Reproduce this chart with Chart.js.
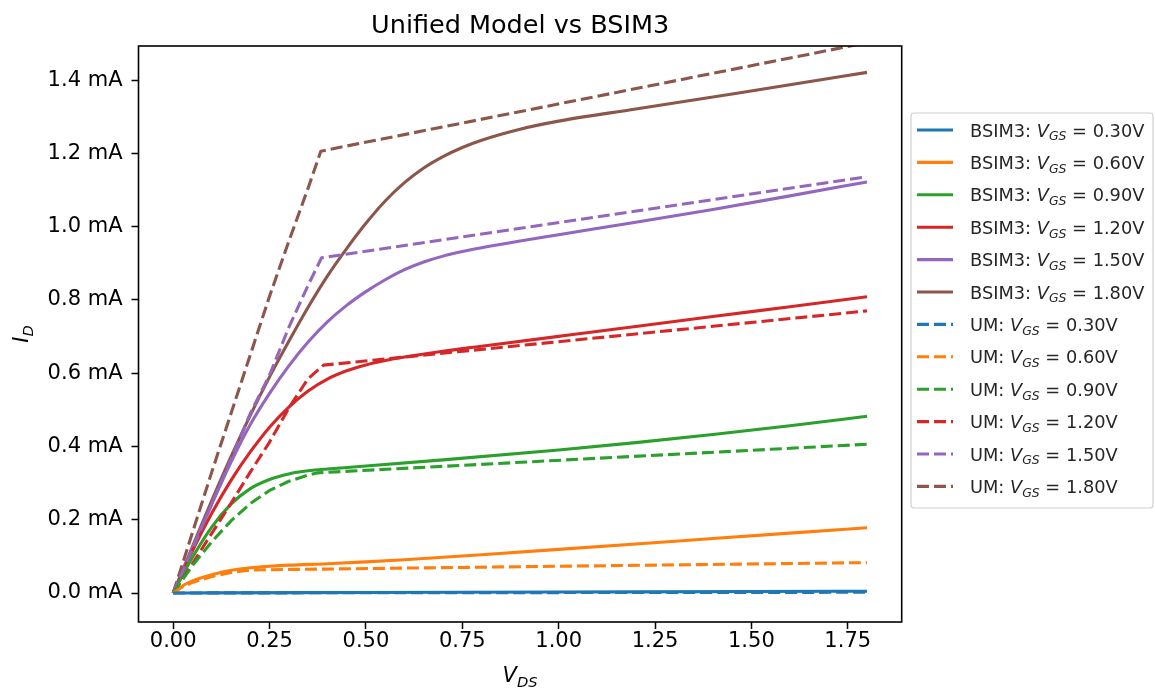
<!DOCTYPE html>
<html><head><meta charset="utf-8">
<script src="https://cdn.jsdelivr.net/npm/chart.js@4/dist/chart.umd.min.js"></script>
<style>html,body{margin:0;padding:0;background:#fff;}#wrap{width:1155px;height:691px;position:relative;}</style>
</head><body><div id="wrap"><canvas id="c" width="1155" height="691"></canvas></div>
<script>
// ---------- data (V_DS [V], I_D [mA]) ----------
const vgsLabels = ['0.30', '0.60', '0.90', '1.20', '1.50', '1.80'];
const xTicks = [0, 0.25, 0.5, 0.75, 1.0, 1.25, 1.5, 1.75];
const yTicks = [0, 0.2, 0.4, 0.6, 0.8, 1.0, 1.2, 1.4];

const bsim030 = [[0,0],[0.1,0.0005],[0.5,0.0015],[1.0,0.0028],[1.5,0.004],[1.8,0.005]];
const bsim060 = [[0,0],[0.025,0.02],[0.05,0.033],[0.1,0.05],[0.15,0.062],[0.2,0.069],[0.25,0.073],[0.3,0.076],[0.4,0.08],[0.5,0.085],[0.6,0.091],[0.7,0.0975],[0.8,0.1045],[1.0,0.119],[1.2,0.1338],[1.4,0.1488],[1.6,0.1635],[1.8,0.178]];
const bsim090 = [[0,0],[0.025,0.05],[0.05,0.0975],[0.1,0.18],[0.15,0.2425],[0.2,0.285],[0.25,0.31],[0.3,0.325],[0.35,0.3335],[0.4,0.3385],[0.5,0.3465],[0.7,0.3635],[1.0,0.3905],[1.2,0.4105],[1.4,0.4325],[1.6,0.4565],[1.8,0.4825]];
const bsim120 = [[0,0],[0.05,0.115],[0.1,0.2175],[0.15,0.3075],[0.2,0.385],[0.25,0.4525],[0.3,0.5075],[0.35,0.5515],[0.4,0.584],[0.45,0.6065],[0.5,0.6225],[0.55,0.6345],[0.6,0.644],[0.7,0.66],[0.8,0.6735],[1.0,0.7005],[1.2,0.7275],[1.4,0.7545],[1.6,0.7815],[1.8,0.8085]];
const bsim150 = [[0,0],[0.05,0.1225],[0.1,0.2425],[0.15,0.3575],[0.2,0.46],[0.25,0.545],[0.3,0.62],[0.35,0.685],[0.4,0.74],[0.45,0.785],[0.5,0.8225],[0.55,0.855],[0.6,0.8825],[0.65,0.9035],[0.7,0.9195],[0.75,0.932],[0.8,0.9425],[0.9,0.961],[1.0,0.978],[1.2,1.012],[1.4,1.047],[1.6,1.084],[1.8,1.122]];
const bsim180 = [[0,0],[0.05,0.127],[0.1,0.252],[0.15,0.372],[0.2,0.485],[0.25,0.59],[0.3,0.687],[0.35,0.78],[0.4,0.865],[0.45,0.94],[0.5,1.009],[0.55,1.07],[0.6,1.12],[0.65,1.16],[0.7,1.191],[0.75,1.216],[0.8,1.236],[0.9,1.266],[1.0,1.288],[1.2,1.321],[1.4,1.354],[1.6,1.387],[1.8,1.421]];

const um030 = [[0,0],[0.1,0.0003],[1.8,0.002]];
const um060 = [[0,0],[0.025,0.017],[0.05,0.029],[0.1,0.045],[0.15,0.056],[0.2,0.063],[1.8,0.083]];
const um090 = [[0,0],[0.05,0.075],[0.1,0.14],[0.15,0.197],[0.2,0.244],[0.25,0.28],[0.3,0.305],[0.35,0.322],[0.375,0.328],[1.8,0.406]];
const um120 = [[0,0],[0.05,0.08],[0.1,0.163],[0.15,0.245],[0.2,0.33],[0.25,0.412],[0.3,0.505],[0.35,0.585],[0.39,0.622],[1.8,0.77]];
const um150 = [[0,0],[0.05,0.12],[0.1,0.243],[0.15,0.365],[0.2,0.49],[0.25,0.595],[0.3,0.725],[0.35,0.84],[0.385,0.915],[1.8,1.136]];
const um180 = [[0,0],[0.05,0.165],[0.1,0.33],[0.15,0.49],[0.2,0.65],[0.25,0.81],[0.3,0.96],[0.35,1.105],[0.383,1.206],[1.8,1.502]];

const bsimSeries = [bsim030, bsim060, bsim090, bsim120, bsim150, bsim180];
const umSeries = [um030, um060, um090, um120, um150, um180];
const colors = ['#1f77b4', '#ff7f0e', '#2ca02c', '#d62728', '#9467bd', '#8c564b'];

// ---------- styling constants ----------
const FONT = "'DejaVu Sans', sans-serif";
const TICK_PX = 21, TITLE_PX = 25.5, LEG_PX = 17.8, LW = 3.1, DASH = [12, 5];

const datasets = [];
bsimSeries.forEach((d, i) => datasets.push({
  label: 'BSIM3: VGS = ' + vgsLabels[i] + 'V', data: d, borderColor: colors[i],
  borderWidth: LW, pointRadius: 0, cubicInterpolationMode: 'monotone', order: 2, fill: false
}));
umSeries.forEach((d, i) => datasets.push({
  label: 'UM: VGS = ' + vgsLabels[i] + 'V', data: d, borderColor: colors[i],
  borderWidth: LW, pointRadius: 0, borderDash: DASH, tension: 0, order: 1, fill: false
}));

function drawRich(ctx, parts, x, y, size, align) {
  const meas = parts.map(p => {
    const s = p.sub ? size * 0.7 : size;
    ctx.font = (p.it ? 'italic ' : '') + s + 'px ' + FONT;
    return ctx.measureText(p.t).width;
  });
  const total = meas.reduce((a, b) => a + b, 0);
  let cx = align === 'center' ? x - total / 2 : (align === 'right' ? x - total : x);
  ctx.textBaseline = 'alphabetic'; ctx.textAlign = 'left';
  parts.forEach((p, k) => {
    const s = p.sub ? size * 0.7 : size;
    ctx.font = (p.it ? 'italic ' : '') + s + 'px ' + FONT;
    ctx.fillText(p.t, cx, y + (p.sub ? size * 0.22 : 0));
    cx += meas[k];
  });
}

const deco = {
  id: 'deco',
  afterDraw(chart) {
    const ctx = chart.ctx, a = chart.chartArea;
    ctx.save();
    ctx.strokeStyle = '#000'; ctx.lineWidth = 1.6;
    ctx.strokeRect(a.left, a.top, a.right - a.left, a.bottom - a.top);
    ctx.fillStyle = '#000';
    const cx = (a.left + a.right) / 2;
    drawRich(ctx, [{t: 'Unified Model vs BSIM3'}], cx, 33, TITLE_PX, 'center');
    drawRich(ctx, [{t: 'V', it: true}, {t: 'DS', it: true, sub: true}], cx, 682, TICK_PX, 'center');
    ctx.save();
    ctx.translate(28, (a.top + a.bottom) / 2);
    ctx.rotate(-Math.PI / 2);
    drawRich(ctx, [{t: 'I', it: true}, {t: 'D', it: true, sub: true}], 0, 0, TICK_PX, 'center');
    ctx.restore();
    // legend
    const lx = 911, ly = 113, lw = 242, lh = 395;
    ctx.beginPath();
    if (ctx.roundRect) ctx.roundRect(lx, ly, lw, lh, 3); else ctx.rect(lx, ly, lw, lh);
    ctx.fillStyle = 'rgba(255,255,255,0.8)'; ctx.fill();
    ctx.strokeStyle = '#d0d0d0'; ctx.lineWidth = 1.2; ctx.stroke();
    const rowH = 32.4, y0 = 130;
    const entries = [];
    vgsLabels.forEach((v, i) => entries.push({pre: 'BSIM3: ', v, c: colors[i], dash: false}));
    vgsLabels.forEach((v, i) => entries.push({pre: 'UM: ', v, c: colors[i], dash: true}));
    entries.forEach((e, k) => {
      const yy = y0 + k * rowH;
      ctx.beginPath(); ctx.strokeStyle = e.c; ctx.lineWidth = LW;
      ctx.setLineDash(e.dash ? DASH : []);
      ctx.moveTo(917, yy); ctx.lineTo(953, yy); ctx.stroke();
      ctx.setLineDash([]);
      ctx.fillStyle = '#262626';
      drawRich(ctx, [{t: e.pre}, {t: 'V', it: true}, {t: 'GS', it: true, sub: true}, {t: ' = ' + e.v + 'V'}], 970, yy + 6.5, LEG_PX, 'left');
    });
    ctx.restore();
  }
};

new Chart(document.getElementById('c'), {
  type: 'line',
  data: {datasets},
  options: {
    responsive: false, animation: false, devicePixelRatio: 1,
    layout: {padding: {top: 46, right: 253.3, left: 0, bottom: 0}},
    plugins: {legend: {display: false}, title: {display: false}, tooltip: {enabled: false}},
    elements: {line: {borderCapStyle: 'butt', borderJoinStyle: 'round'}},
    scales: {
      x: {
        type: 'linear', min: -0.09, max: 1.89,
        afterBuildTicks: s => { s.ticks = xTicks.map(v => ({value: v})); },
        afterFit: s => { s.height = 69; },
        border: {display: false},
        grid: {display: true, drawOnChartArea: false, drawTicks: true, tickLength: 7, tickColor: '#000', tickWidth: 1.5},
        ticks: {color: '#000', font: {family: FONT, size: TICK_PX}, padding: 0, maxRotation: 0,
                callback: v => Number(v).toFixed(2)}
      },
      y: {
        type: 'linear', min: -0.0791, max: 1.493,
        afterBuildTicks: s => { s.ticks = yTicks.map(v => ({value: v})); },
        afterFit: s => { s.width = 138.5; },
        border: {display: false},
        grid: {display: true, drawOnChartArea: false, drawTicks: true, tickLength: 7, tickColor: '#000', tickWidth: 1.5},
        ticks: {color: '#000', font: {family: FONT, size: TICK_PX}, padding: 9,
                callback: v => Number(v).toFixed(1) + ' mA'}
      }
    }
  },
  plugins: [deco]
});
</script></body></html>
